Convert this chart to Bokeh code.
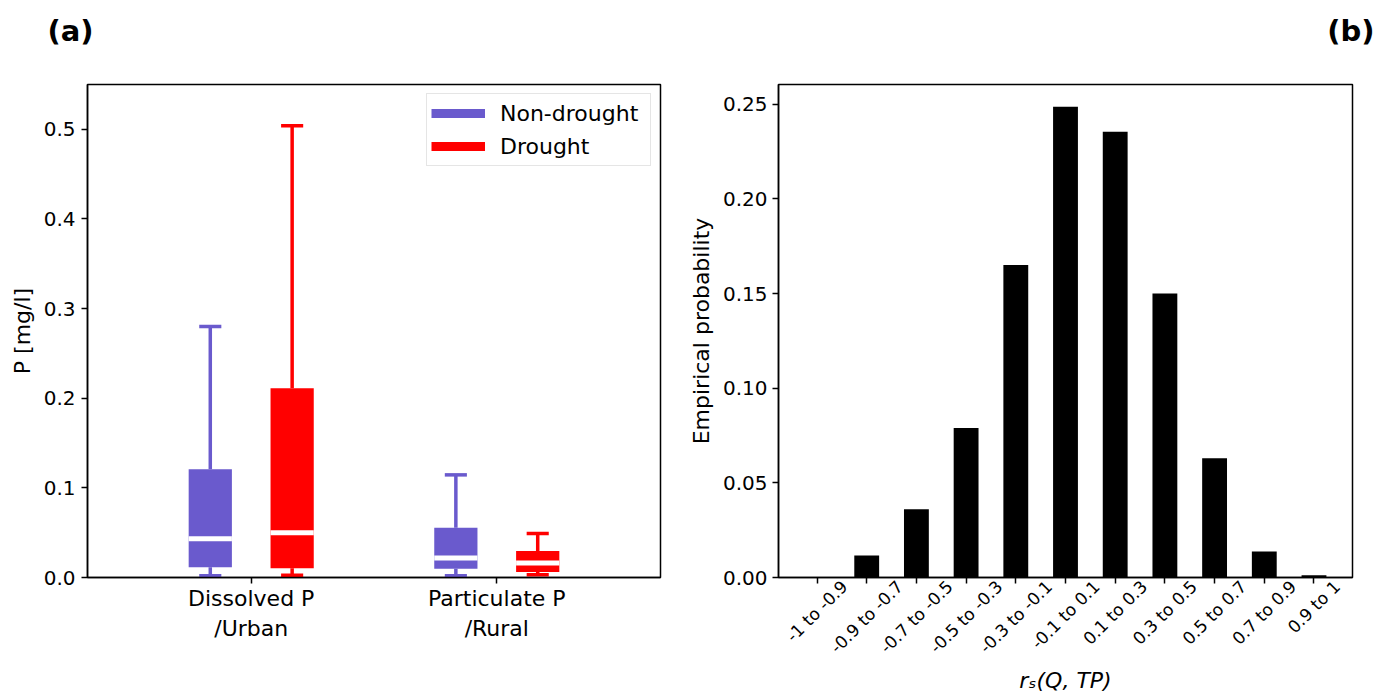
import math
import numpy as np
from bokeh.plotting import figure
from bokeh.layouts import row
from bokeh.models import (Range1d, FixedTicker, SingleIntervalTicker,
                          NumeralTickFormatter, Legend, LegendItem, Title, ColumnDataSource,
                          LinearAxis)
from bokeh.embed import file_html
from bokeh.resources import INLINE

# ---------------- data ----------------
categories = ["Dissolved P\n/Urban", "Particulate P\n/Rural"]
groups = ["Non-drought", "Drought"]
group_colors = ["#6a5acd", "#ff0000"]

nd_lower = [0.002, 0.002]
nd_q1 = [0.0115, 0.0097]
nd_median = [0.0433, 0.0217]
nd_q3 = [0.1207, 0.0554]
nd_upper = [0.280, 0.1145]

dr_lower = [0.0026, 0.003]
dr_q1 = [0.0104, 0.006]
dr_median = [0.0498, 0.0162]
dr_q3 = [0.211, 0.0297]
dr_upper = [0.504, 0.049]

bins = ["-1 to -0.9", "-0.9 to -0.7", "-0.7 to -0.5", "-0.5 to -0.3", "-0.3 to -0.1",
        "-0.1 to 0.1", "0.1 to 0.3", "0.3 to 0.5", "0.5 to 0.7", "0.7 to 0.9", "0.9 to 1"]
probability = [0.0, 0.0116, 0.036, 0.079, 0.165, 0.2486, 0.2354, 0.150, 0.063, 0.0137, 0.0012]

FONT = "DejaVu Sans"


def style_axes(p):
    for ax in (p.xaxis + p.yaxis):
        ax.axis_line_width = 1.5
        ax.major_tick_line_width = 1.5
        ax.major_tick_out = 6
        ax.major_tick_in = 0
        ax.minor_tick_line_color = None
        ax.major_label_text_font = FONT
        ax.major_label_text_color = "black"
        ax.axis_label_text_font = FONT
        ax.axis_label_text_font_style = "normal"
        ax.axis_label_text_color = "black"
    p.xgrid.grid_line_color = None
    p.ygrid.grid_line_color = None
    p.outline_line_color = "black"
    p.outline_line_width = 1.5
    p.outline_line_alpha = 1.0


def add_panel_tag(p, text, align, offset):
    # spacer between the frame and the panel tag
    p.add_layout(Title(text=" ", text_font_size="10px", standoff=24), "above")
    p.add_layout(Title(text=text, text_font=FONT, text_font_size="29px",
                       text_font_style="bold", text_color="black", align=align,
                       offset=offset, standoff=0, vertical_align="bottom"), "above")


# ---------------- panel (a) ----------------
p1 = figure(width=685, height=698, x_range=Range1d(1 / 3, 8 / 3), y_range=Range1d(0, 0.55),
            output_backend="svg", toolbar_location=None,
            min_border_left=87, min_border_right=25, min_border_top=84, min_border_bottom=121)

box_w = 0.176
cap_w = 0.09
offsets = [-1 / 6, 1 / 6]
stats = [
    (nd_lower, nd_q1, nd_median, nd_q3, nd_upper),
    (dr_lower, dr_q1, dr_median, dr_q3, dr_upper),
]
legend_items = []
for gi, (lo, q1, med, q3, up) in enumerate(stats):
    col = group_colors[gi]
    xs = [i + 1 + offsets[gi] for i in range(len(categories))]
    src = ColumnDataSource(dict(
        x=xs, lo=lo, q1=q1, med=med, q3=q3, up=up,
        cl=[x - cap_w / 2 for x in xs], cr=[x + cap_w / 2 for x in xs],
        bl=[x - box_w / 2 for x in xs], br=[x + box_w / 2 for x in xs],
    ))
    p1.segment(x0="x", y0="q3", x1="x", y1="up", source=src, line_color=col, line_width=3.5)
    p1.segment(x0="x", y0="q1", x1="x", y1="lo", source=src, line_color=col, line_width=3.5)
    p1.segment(x0="cl", y0="up", x1="cr", y1="up", source=src, line_color=col, line_width=3.5)
    p1.segment(x0="cl", y0="lo", x1="cr", y1="lo", source=src, line_color=col, line_width=3.5)
    p1.vbar(x="x", width=box_w, bottom="q1", top="q3", source=src,
            fill_color=col, line_color=None)
    p1.segment(x0="bl", y0="med", x1="br", y1="med", source=src, line_color="white", line_width=5)
    # legend handle only (no visible data)
    handle = p1.line(x=np.array([np.nan]), y=np.array([np.nan]), line_color=col, line_width=9)
    legend_items.append(LegendItem(label=groups[gi], renderers=[handle]))

legend = Legend(items=legend_items, location="top_right", margin=9,
                glyph_width=54, glyph_height=20, label_height=30, label_width=146,
                spacing=3, padding=4,
                label_standoff=15, label_text_font=FONT, label_text_font_size="22px",
                label_text_color="black",
                border_line_color="#cccccc", border_line_width=1,
                background_fill_alpha=0.8)
p1.add_layout(legend)

p1.xaxis.ticker = FixedTicker(ticks=[i + 1 for i in range(len(categories))])
p1.xaxis.major_label_overrides = {i + 1: c for i, c in enumerate(categories)}
p1.xaxis.major_label_text_font_size = "22px"
p1.xaxis.major_label_standoff = 2
p1.yaxis.ticker = SingleIntervalTicker(interval=0.1)
p1.yaxis.formatter = NumeralTickFormatter(format="0.0")
p1.yaxis.major_label_text_font_size = "20px"
p1.yaxis.major_label_standoff = 6
p1.yaxis.axis_label = "P [mg/l]"
p1.yaxis.axis_label_text_font_size = "22px"
p1.yaxis.axis_label_standoff = 6
style_axes(p1)
add_panel_tag(p1, "(a)", "left", -40)

# ---------------- panel (b) ----------------
W2, MB_L2, MB_R2 = 692, 91, 25
PAD = 0.775
idx = list(range(len(bins)))
p2 = figure(width=W2, height=698,
            x_range=Range1d(-PAD, len(bins) - 1 + PAD),
            y_range=Range1d(0, 0.2604),
            output_backend="svg", toolbar_location=None,
            min_border_left=MB_L2, min_border_right=MB_R2, min_border_top=84, min_border_bottom=121)
p2.vbar(x=idx, top=probability, width=0.5, fill_color="black", line_color=None)

# the first x axis only draws the tick marks
main_x = p2.xaxis[0]
main_x.ticker = FixedTicker(ticks=idx)
main_x.major_label_overrides = {i: "" for i in idx}
main_x.major_label_text_font_size = "0px"
main_x.major_label_standoff = 0

# rotated labels, centred on their tick like matplotlib's rotation=45
LAB_FS = 17
ADV = {"-": 0.361, ".": 0.318, " ": 0.318, "t": 0.392, "o": 0.612}
px_per_unit = (W2 - MB_L2 - MB_R2) / (len(bins) - 1 + 2 * PAD)
lab_pos = []
for i, b in enumerate(bins):
    w_px = sum(ADV.get(ch, 0.636) for ch in b) * LAB_FS
    lab_pos.append(round(i + 0.354 * w_px / px_per_unit, 4))
lab_axis = LinearAxis(ticker=FixedTicker(ticks=lab_pos),
                      major_label_overrides={pos: b for pos, b in zip(lab_pos, bins)})
p2.add_layout(lab_axis, "below")

style_axes(p2)
lab_axis.axis_line_color = None
lab_axis.major_tick_line_color = None
lab_axis.major_tick_out = 0
lab_axis.major_label_orientation = math.pi / 4
lab_axis.major_label_text_font_size = "%dpx" % LAB_FS
lab_axis.major_label_standoff = 0
lab_axis.axis_label = "rₛ(Q, TP)"
lab_axis.axis_label_text_font_size = "22px"
lab_axis.axis_label_standoff = 1
lab_axis.axis_label_text_font_style = "italic"

p2.yaxis.ticker = SingleIntervalTicker(interval=0.05)
p2.yaxis.formatter = NumeralTickFormatter(format="0.00")
p2.yaxis.major_label_text_font_size = "20px"
p2.yaxis.major_label_standoff = 5
p2.yaxis.axis_label = "Empirical probability"
p2.yaxis.axis_label_text_font_size = "22px"
p2.yaxis.axis_label_standoff = 6
add_panel_tag(p2, "(b)", "right", -22)

layout = row(p1, p2)
open("out.html", "w").write(file_html(layout, INLINE))
